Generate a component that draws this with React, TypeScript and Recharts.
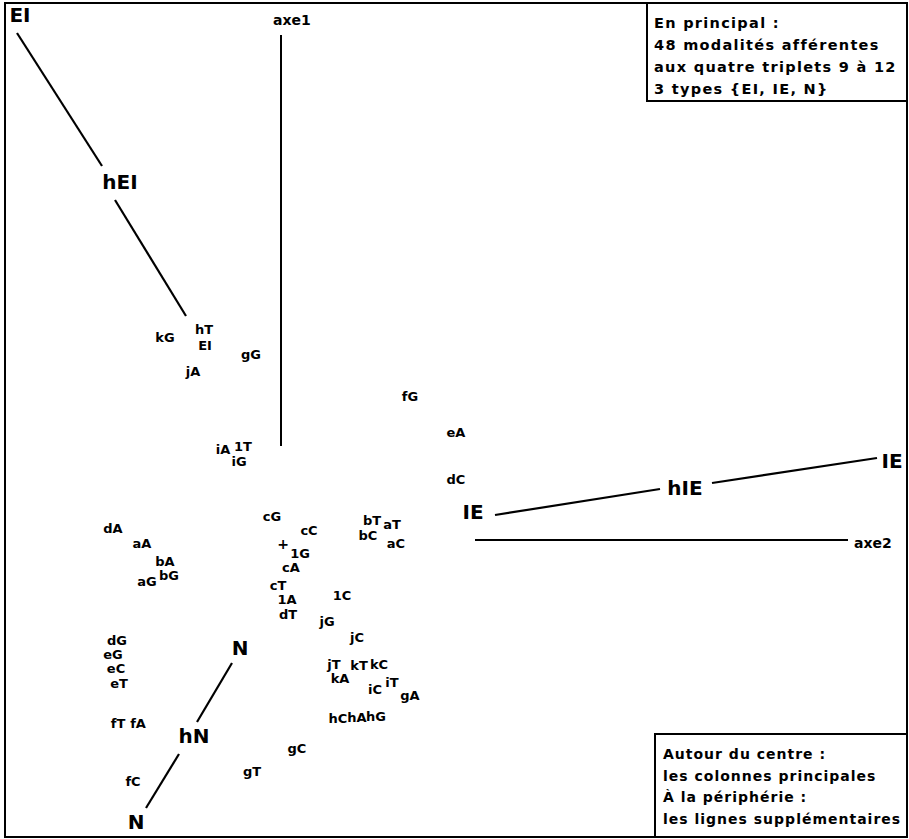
import React from 'react';
import { ScatterChart, Scatter, XAxis, YAxis, ReferenceLine } from 'recharts';

// principal columns (48 modalités), coordinates on axe2 (x) / axe1 (y)
const columnLabels = [
  'kG', 'hT', 'EI', 'jA', 'gG', 'iA', '1T', 'iG', 'fG', 'eA', 'dC', 'bT', 'aT', 'bC', 'aC',
  'dA', 'aA', 'bA', 'aG', 'bG', 'cG', 'cC', '1G', 'cA', 'cT', '1A', 'dT', '1C', 'jG', 'jC',
  'dG', 'eG', 'eC', 'eT', 'jT', 'kA', 'kT', 'kC', 'iC', 'iT', 'gA', 'hC', 'hA', 'hG',
  'fT', 'fA', 'fC', 'gT', 'gC',
];
const columnX = [
  -1.18, -0.79, -0.78, -0.9, -0.32, -0.6, -0.4, -0.44, 1.27, 1.73, 1.73, 0.89, 1.09, 0.85, 1.13,
  -1.7, -1.41, -1.18, -1.36, -1.14, -0.11, 0.26, 0.17, 0.08, -0.05, 0.04, 0.05, 0.59, 0.44, 0.74,
  -1.66, -1.7, -1.67, -1.64, 0.51, 0.57, 0.76, 0.96, 0.92, 1.09, 1.27, 0.55, 0.74, 0.93,
  -1.65, -1.45, -1.5, -0.31, 0.14,
];
const columnY = [
  2.07, 2.15, 1.99, 1.73, 1.9, 0.95, 0.98, 0.83, 1.48, 1.12, 0.65, 0.24, 0.2, 0.09, 0.01,
  0.16, 0.01, -0.17, -0.37, -0.31, 0.28, 0.14, -0.09, -0.23, -0.41, -0.55, -0.7, -0.51, -0.77, -0.93,
  -0.96, -1.1, -1.24, -1.39, -1.2, -1.34, -1.21, -1.2, -1.45, -1.38, -1.51, -1.74, -1.73, -1.72,
  -1.79, -1.79, -2.37, -2.27, -2.04,
];

// supplementary rows (3 types)
const rowLabels = ['EI', 'hEI', 'IE', 'hIE', 'IE', 'N', 'hN', 'N'];
const rowX = [-2.63, -1.63, 1.9, 4.02, 6.09, -0.43, -0.89, -1.47];
const rowY = [5.29, 3.62, 0.32, 0.56, 0.83, -1.04, -1.92, -2.78];

// connecting segments between rows: [x1, y1, x2, y2]
const rowSegments = [
  [-2.66, 5.11, -1.81, 3.78],
  [-1.68, 3.44, -0.97, 2.28],
  [2.12, 0.29, 3.77, 0.55],
  [4.29, 0.61, 5.94, 0.86],
  [-0.51, -1.19, -0.86, -1.78],
  [-1.04, -2.1, -1.37, -2.64],
];

// axes drawn as plain segments
const axisSegments = [
  [-0.02, 5.09, -0.02, 0.98],
  [1.92, 0.04, 5.65, 0.04],
];
const axisLabels = ['axe1', 'axe2'];
const axisLabelX = [-0.1, 5.71];
const axisLabelY = [5.24, 0.01];

const topNote = ['En principal :', '48 modalités afférentes', 'aux quatre triplets 9 à 12', '3 types {EI, IE, N}'];
const bottomNote = ['Autour du centre :', 'les colonnes principales', 'À la périphérie :', 'les lignes supplémentaires'];

const font = '"DejaVu Sans", sans-serif';

const columns = columnLabels.map((label, i) => ({ label, x: columnX[i], y: columnY[i] }));
const rows = rowLabels.map((label, i) => ({ label, x: rowX[i], y: rowY[i] }));
const axisText = axisLabels.map((label, i) => ({ label, x: axisLabelX[i], y: axisLabelY[i] }));
const origin = [{ label: '+', x: 0, y: 0 }];

const textShape = (size: number, anchor: string) => (p: any) => (
  <text
    x={p.cx}
    y={p.cy}
    textAnchor={anchor}
    dominantBaseline="central"
    fontFamily={font}
    fontWeight="bold"
    fontSize={size}
    fill="#000"
  >
    {p.payload.label}
  </text>
);

const box = (left: number, top: number, width: number, height: number): React.CSSProperties => ({
  position: 'absolute',
  left,
  top,
  width,
  height,
  border: '2px solid #000',
  boxSizing: 'border-box',
});

export default function App() {
  return (
    <div style={{ position: 'absolute', left: 0, top: 0, width: 909, height: 839, background: '#fff' }}>
      <ScatterChart width={909} height={839} margin={{ top: 0, right: 0, bottom: 0, left: 0 }}>
        <XAxis type="number" dataKey="x" domain={[-2.83, 6.26]} hide />
        <YAxis type="number" dataKey="y" domain={[-2.95, 5.44]} hide />
        {axisSegments.map((s, i) => (
          <ReferenceLine key={`a${i}`} segment={[{ x: s[0], y: s[1] }, { x: s[2], y: s[3] }]} stroke="#000" strokeWidth={2} />
        ))}
        {rowSegments.map((s, i) => (
          <ReferenceLine key={`r${i}`} segment={[{ x: s[0], y: s[1] }, { x: s[2], y: s[3] }]} stroke="#000" strokeWidth={2.2} />
        ))}
        <Scatter data={columns} shape={textShape(13, 'middle')} isAnimationActive={false} />
        <Scatter data={origin} shape={textShape(14, 'middle')} isAnimationActive={false} />
        <Scatter data={rows} shape={textShape(20, 'middle')} isAnimationActive={false} />
        <Scatter data={axisText} shape={textShape(14, 'start')} isAnimationActive={false} />
      </ScatterChart>

      <div style={box(4, 2, 904, 836)} />
      <div style={{ ...box(646, 2, 262, 100), background: '#fff', padding: '8px 0 0 6px', fontFamily: font, fontWeight: 'bold', fontSize: 14.5, letterSpacing: 1.3, lineHeight: '22px' }}>
        {topNote.map((t) => (
          <div key={t} style={{ whiteSpace: 'nowrap' }}>{t}</div>
        ))}
      </div>
      <div style={{ ...box(654, 733, 254, 105), background: '#fff', padding: '9px 0 0 7px', fontFamily: font, fontWeight: 'bold', fontSize: 14, letterSpacing: 1, lineHeight: '21.5px' }}>
        {bottomNote.map((t) => (
          <div key={t} style={{ whiteSpace: 'nowrap' }}>{t}</div>
        ))}
      </div>
    </div>
  );
}
